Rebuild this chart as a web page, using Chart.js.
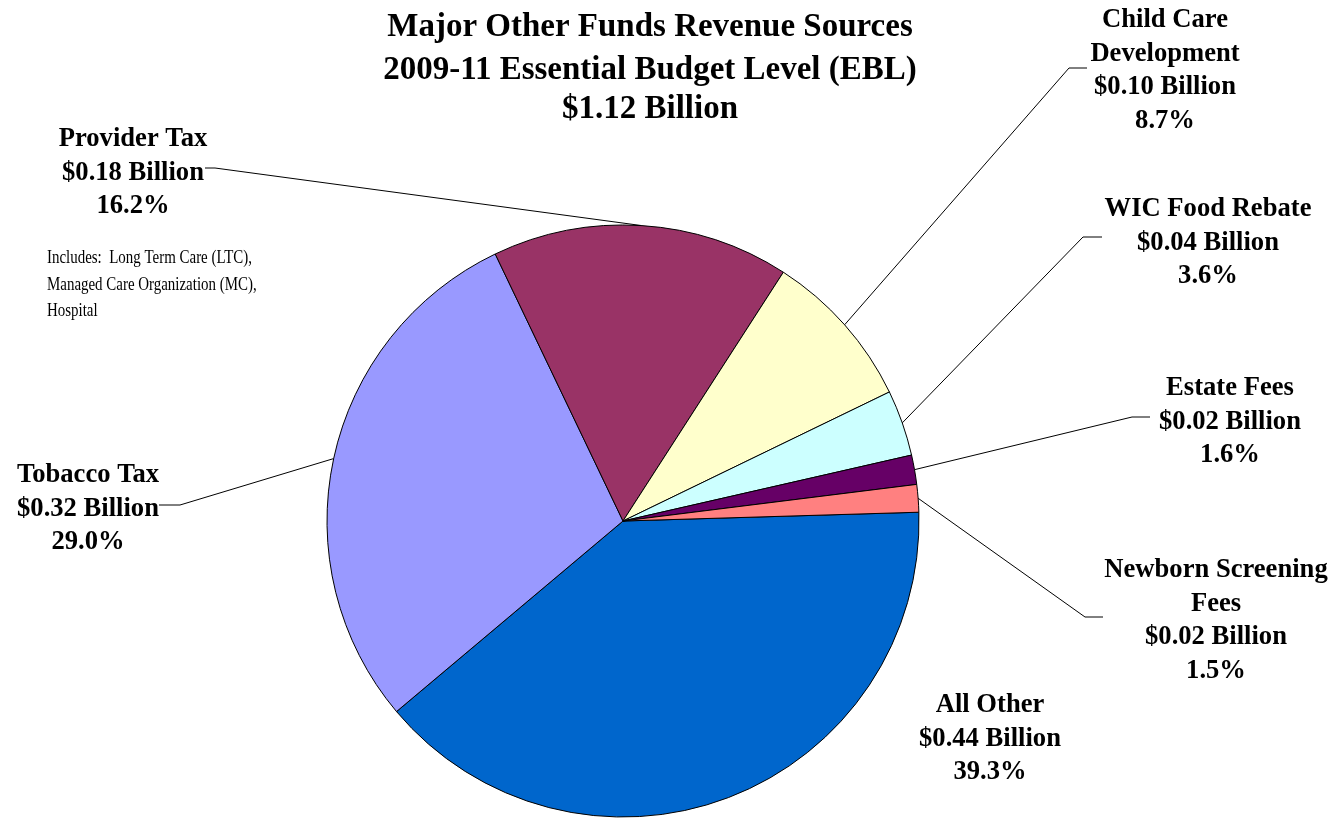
<!DOCTYPE html>
<html>
<head>
<meta charset="utf-8">
<title>Major Other Funds Revenue Sources</title>
<script src="https://cdn.jsdelivr.net/npm/chart.js@4.4.1/dist/chart.umd.min.js"></script>
<style>
    html, body { margin: 0; padding: 0; background: #fff; }
    #wrap { position: relative; width: 1331px; height: 819px; }
</style>
</head>
<body>
<div id="wrap"><canvas id="revenueChart"></canvas></div>
<script>
// Revenue sources, in drawing order (clockwise from 3 o'clock)
const sourceNames = [
    'All Other',
    'Tobacco Tax',
    'Provider Tax',
    'Child Care\nDevelopment',
    'WIC Food Rebate',
    'Estate Fees',
    'Newborn Screening\nFees'
];
const amountsBillion = [0.44, 0.32, 0.18, 0.10, 0.04, 0.02, 0.02];
const sharePercent = [39.3, 29.0, 16.2, 8.7, 3.6, 1.6, 1.5];
const sliceColors = ['#0066CC', '#9999FF', '#993366', '#FFFFCC', '#CCFFFF', '#660066', '#FF8080'];

const titleLines = [
    'Major Other Funds Revenue Sources',
    '2009-11 Essential Budget Level (EBL)',
    '$1.12 Billion'
];
const providerNote = [
    'Includes:  Long Term Care (LTC),',
    'Managed Care Organization (MC),',
    'Hospital'
];

// label block anchor (center x, first baseline); leader = [elbowX, elbowY, endX]
const labelLayout = [
    { x: 990, y: 712, leader: null },
    { x: 88, y: 482, leader: [180, 505, 159] },
    { x: 133, y: 146, leader: [215, 168, 205] },
    { x: 1165, y: 27, leader: [1069, 68, 1087] },
    { x: 1208, y: 216, leader: [1083, 237, 1102] },
    { x: 1230, y: 395, leader: [1132, 417, 1150] },
    { x: 1216, y: 577, leader: [1085, 617, 1103] }
];

const SERIF = '"Liberation Serif", "Times New Roman", serif';

// text squeezed horizontally around its anchor
function drawText(ctx, text, x, y, sx) {
    ctx.save();
    ctx.translate(x, y);
    ctx.scale(sx, 1);
    ctx.fillText(text, 0, 0);
    ctx.restore();
}

const labelsPlugin = {
    id: 'pieLabels',
    afterDraw(chart) {
        const ctx = chart.ctx;
        const arcs = chart.getDatasetMeta(0).data;
        ctx.save();

        // title
        ctx.fillStyle = '#000';
        ctx.textAlign = 'center';
        ctx.textBaseline = 'alphabetic';
        ctx.font = 'bold 33px ' + SERIF;
        [36, 79, 118].forEach((y, i) => ctx.fillText(titleLines[i], 650, y));

        // leader lines from slice edge to the label
        ctx.strokeStyle = '#000';
        ctx.lineWidth = 1;
        arcs.forEach((arc, i) => {
            const lead = labelLayout[i].leader;
            if (!lead) return;
            const mid = (arc.startAngle + arc.endAngle) / 2;
            const px = arc.x + Math.cos(mid) * arc.outerRadius;
            const py = arc.y + Math.sin(mid) * arc.outerRadius;
            ctx.beginPath();
            ctx.moveTo(px, py);
            ctx.lineTo(lead[0], lead[1]);
            ctx.lineTo(lead[2], lead[1]);
            ctx.stroke();
        });

        // label blocks
        ctx.font = 'bold 28px ' + SERIF;
        sourceNames.forEach((name, i) => {
            const lines = name.split('\n').concat([
                '$' + amountsBillion[i].toFixed(2) + ' Billion',
                sharePercent[i].toFixed(1) + '%'
            ]);
            const pos = labelLayout[i];
            lines.forEach((t, j) => drawText(ctx, t, pos.x, pos.y + j * 33.5, 0.95));
        });

        // note under the provider tax label
        ctx.textAlign = 'left';
        ctx.font = '18px ' + SERIF;
        providerNote.forEach((t, i) => drawText(ctx, t, 47, 263 + i * 26.5, 0.83));

        ctx.restore();
    }
};

new Chart(document.getElementById('revenueChart'), {
    type: 'pie',
    data: {
        labels: sourceNames.map(n => n.replace('\n', ' ')),
        datasets: [{
            data: sharePercent,
            backgroundColor: sliceColors,
            borderColor: '#000',
            borderWidth: 1
        }]
    },
    options: {
        responsive: true,
        maintainAspectRatio: false,
        animation: false,
        rotation: 88.3,
        radius: 296,
        layout: { padding: { left: 327, right: 412, top: 225, bottom: 2 } },
        plugins: {
            legend: { display: false },
            tooltip: { enabled: false }
        }
    },
    plugins: [labelsPlugin]
});
</script>
</body>
</html>
